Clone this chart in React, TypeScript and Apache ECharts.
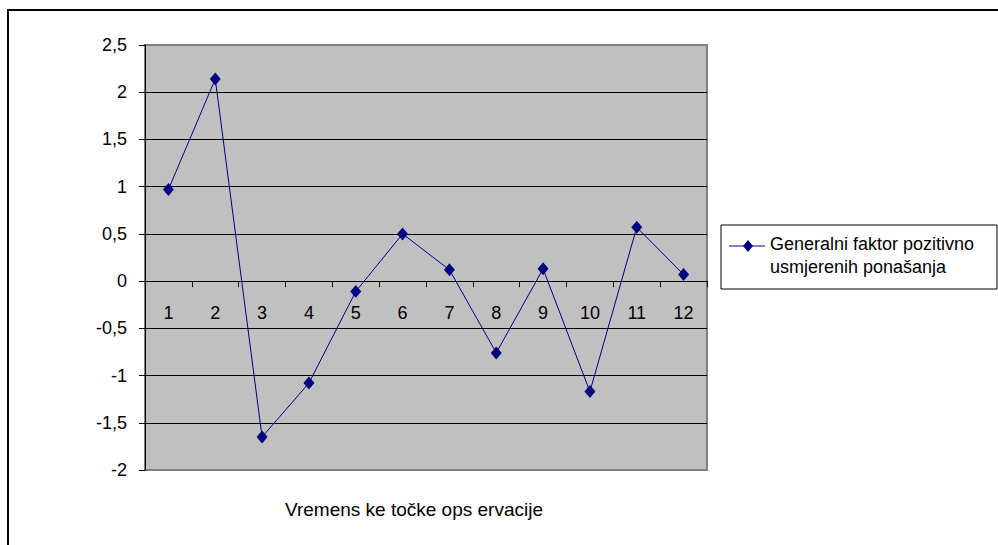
import React, { useEffect, useRef } from "react";
import * as echarts from "echarts";

const categories = ["1", "2", "3", "4", "5", "6", "7", "8", "9", "10", "11", "12"];
const seriesValues = [0.97, 2.14, -1.65, -1.08, -0.11, 0.5, 0.12, -0.76, 0.13, -1.17, 0.57, 0.07];
const seriesName = "Generalni faktor pozitivno usmjerenih ponašanja";
const legendLines = ["Generalni faktor pozitivno", "usmjerenih ponašanja"];
const xAxisTitle = "Vremens ke točke ops ervacije";
const yMin = -2;
const yMax = 2.5;
const yStep = 0.5;

const FONT = "'Liberation Sans', Arial, sans-serif";
const NAVY = "#000080";

const GRID_TOP = 45;
const GRID_H = 425;
const zeroOffset = -(GRID_H * (0 - yMin)) / (yMax - yMin);

export default function App() {
  const ref = useRef<HTMLDivElement>(null);
  useEffect(() => {
    if (!ref.current) return;
    const chart = echarts.init(ref.current, null, { renderer: "svg" });
    chart.setOption({
      animation: false,
      backgroundColor: "#ffffff",
      textStyle: { fontFamily: FONT },
      grid: {
        left: 145,
        top: GRID_TOP,
        width: 562,
        height: GRID_H,
        show: true,
        backgroundColor: "#C0C0C0",
        borderColor: "#808080",
        borderWidth: 2,
        containLabel: false,
      },
      xAxis: {
        type: "category",
        data: categories,
        boundaryGap: true,
        position: "bottom",
        offset: zeroOffset,
        axisLine: { show: true, onZero: false, lineStyle: { color: "#000", width: 1 } },
        axisTick: { show: true, length: 6, lineStyle: { color: "#000", width: 1 } },
        axisLabel: { margin: 23, fontSize: 18, color: "#000", fontFamily: FONT },
        splitLine: { show: false },
      },
      yAxis: {
        type: "value",
        min: yMin,
        max: yMax,
        interval: yStep,
        axisLine: { show: true, lineStyle: { color: "#000", width: 1 } },
        axisTick: { show: true, length: 6, lineStyle: { color: "#000", width: 1 } },
        axisLabel: {
          margin: 18,
          fontSize: 18,
          color: "#000",
          fontFamily: FONT,
          formatter: (v: number) => String(v).replace(".", ","),
        },
        splitLine: {
          show: true,
          showMinLine: false,
          showMaxLine: false,
          lineStyle: { color: "#000", width: 1 },
        },
      },
      series: [
        {
          name: seriesName,
          type: "line",
          data: seriesValues,
          symbol: "diamond",
          symbolSize: [11, 13],
          itemStyle: { color: NAVY },
          lineStyle: { color: NAVY, width: 1 },
        },
      ],
      graphic: [
        {
          type: "rect",
          shape: { x: 8, y: 10, width: 1100, height: 700 },
          style: { fill: "none", stroke: "#000", lineWidth: 2 },
          silent: true,
          z: 100,
        },
        {
          type: "rect",
          shape: { x: 721, y: 225, width: 276, height: 64 },
          style: { fill: "#fff", stroke: "#000", lineWidth: 1 },
          z: 100,
        },
        {
          type: "line",
          shape: { x1: 729, y1: 246, x2: 765, y2: 246 },
          style: { stroke: NAVY, lineWidth: 1 },
          z: 101,
        },
        {
          type: "polygon",
          shape: { points: [[748, 240], [753, 246], [748, 252], [743, 246]] },
          style: { fill: NAVY },
          z: 102,
        },
        {
          type: "text",
          x: 770,
          y: 244,
          style: {
            text: legendLines[0],
            font: `18px ${FONT}`,
            fill: "#000",
            verticalAlign: "middle",
          },
          z: 102,
        },
        {
          type: "text",
          x: 770,
          y: 267,
          style: {
            text: legendLines[1],
            font: `18px ${FONT}`,
            fill: "#000",
            verticalAlign: "middle",
          },
          z: 102,
        },
        {
          type: "text",
          x: 414,
          y: 509,
          style: {
            text: xAxisTitle,
            font: `19px ${FONT}`,
            fill: "#000",
            align: "center",
            verticalAlign: "middle",
          },
          z: 102,
        },
      ],
    });
    return () => chart.dispose();
  }, []);
  return (
    <div
      ref={ref}
      style={{ position: "absolute", left: 0, top: 0, width: 998, height: 545 }}
    />
  );
}
